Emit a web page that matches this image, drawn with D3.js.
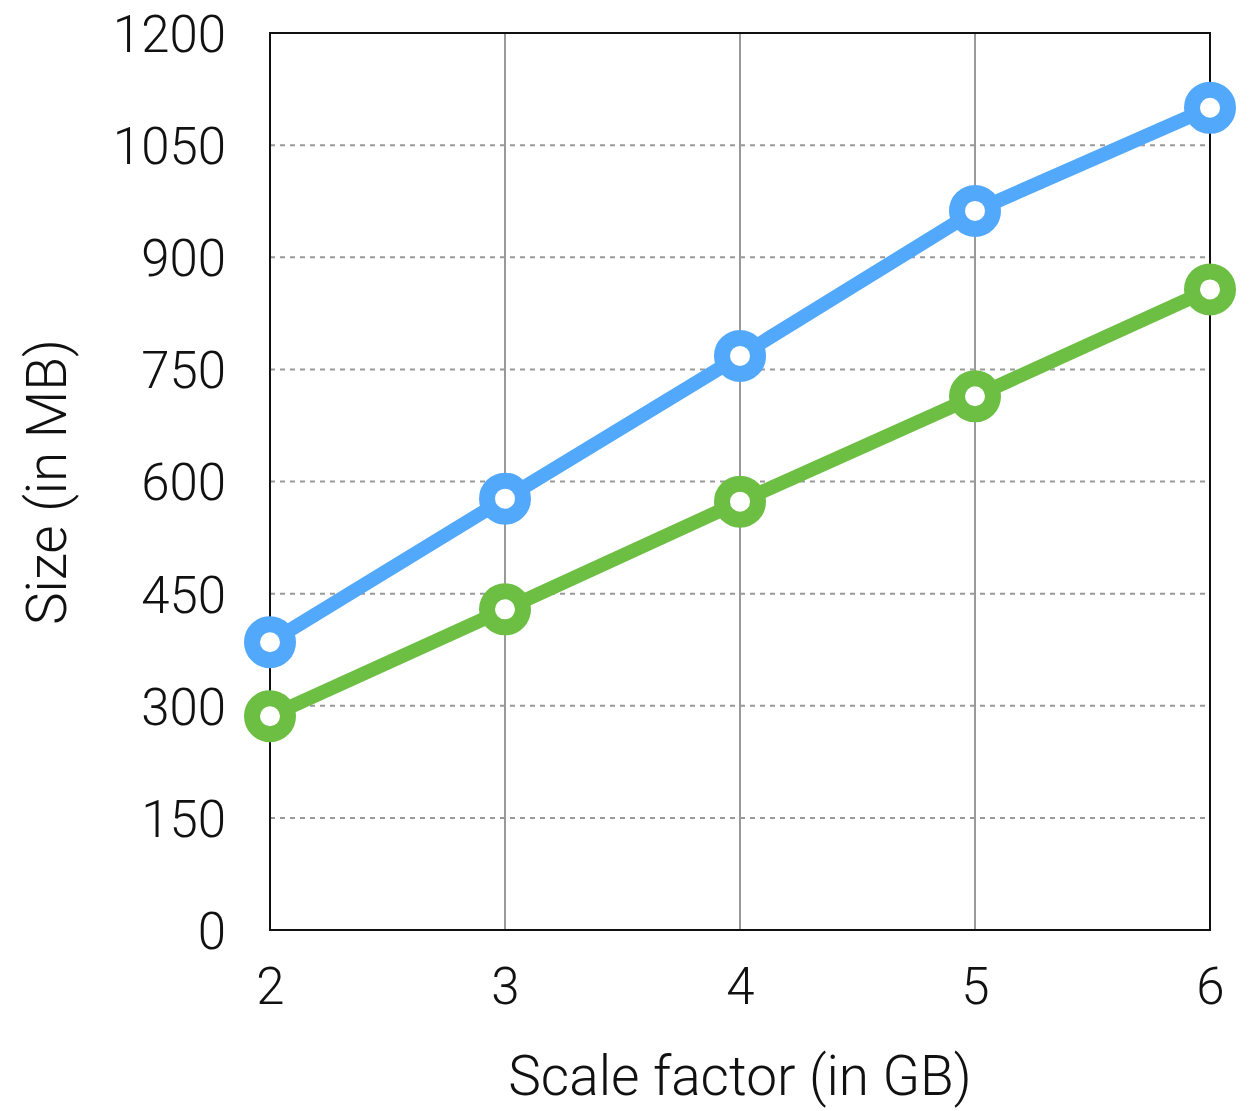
<!DOCTYPE html>
<html><head><meta charset="utf-8">
<script src="https://cdn.jsdelivr.net/npm/d3@7"></script>
<style>body{margin:0;background:#fff}text{font-family:Roboto,"Open Sans",sans-serif;font-weight:300;fill:#111}</style>
</head><body><svg id="c" width="1258" height="1111"></svg>
<script>
const scaleFactors = [2, 3, 4, 5, 6];
const blueSeries = [385, 577, 768, 962, 1100];
const greenSeries = [286, 429, 573, 714, 857];
const yTicks = [0, 150, 300, 450, 600, 750, 900, 1050, 1200];
const xLabel = "Scale factor (in GB)";
const yLabel = "Size (in MB)";

const svg = d3.select("#c");
const L = 270, R = 1210, T = 33, B = 930;
const x = d3.scaleLinear().domain([2, 6]).range([L, R]);
const y = d3.scaleLinear().domain([0, 1200]).range([B, T]);

// horizontal dashed grid
svg.append("g").selectAll("line").data(yTicks.filter(d => d > 0 && d < 1200)).join("line")
  .attr("x1", L).attr("x2", R).attr("y1", d => y(d)).attr("y2", d => y(d))
  .attr("stroke", "#999").attr("stroke-width", 2).attr("stroke-dasharray", "5,5");
// vertical grid
svg.append("g").selectAll("line").data(scaleFactors.slice(1, -1)).join("line")
  .attr("x1", d => x(d)).attr("x2", d => x(d)).attr("y1", T).attr("y2", B)
  .attr("stroke", "#999").attr("stroke-width", 2);
// frame
svg.append("rect").attr("x", L).attr("y", T).attr("width", R - L).attr("height", B - T)
  .attr("fill", "none").attr("stroke", "#111").attr("stroke-width", 2);

const yAxis = svg.append("g").attr("transform", `translate(${L},0)`)
  .call(d3.axisLeft(y).tickValues(yTicks).tickFormat(d3.format("d")).tickSize(0).tickPadding(44));
yAxis.select(".domain").remove();
yAxis.selectAll("text").style("font-size", "51px").attr("fill", "#111").attr("dy", "0.36em");
const xAxis = svg.append("g").attr("transform", `translate(0,${B})`)
  .call(d3.axisBottom(x).tickValues(scaleFactors).tickFormat(d3.format("d")).tickSize(0).tickPadding(38));
xAxis.select(".domain").remove();
xAxis.selectAll("text").style("font-size", "51px").attr("fill", "#111");

svg.append("text").attr("x", (L + R) / 2).attr("y", 1095).attr("text-anchor", "middle")
  .style("font-size", "55px").text(xLabel);
svg.append("text").attr("transform", "translate(66,482) rotate(-90)").attr("text-anchor", "middle")
  .style("font-size", "55px").text(yLabel);

const series = [{v: blueSeries, c: "#52a8fb"}, {v: greenSeries, c: "#6dbf43"}];
const line = d3.line().x((d, i) => x(scaleFactors[i])).y(d => y(d));
series.forEach(s => {
  svg.append("path").datum(s.v).attr("d", line).attr("fill", "none")
    .attr("stroke", s.c).attr("stroke-width", 14).attr("stroke-linejoin", "round");
  svg.append("g").selectAll("circle").data(s.v).join("circle")
    .attr("cx", (d, i) => x(scaleFactors[i])).attr("cy", d => y(d)).attr("r", 18)
    .attr("fill", "#fff").attr("stroke", s.c).attr("stroke-width", 16);
});
</script></body></html>
